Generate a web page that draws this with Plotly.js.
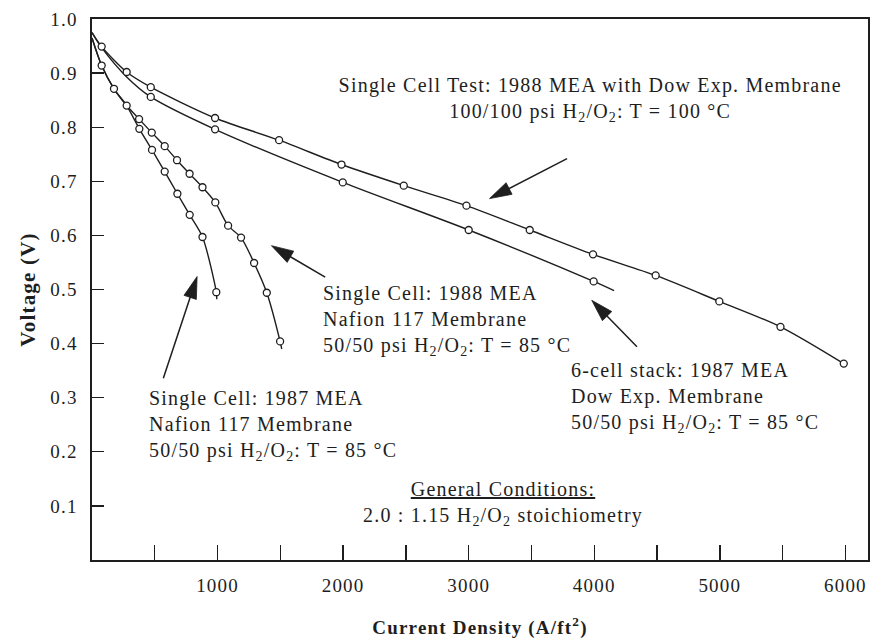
<!DOCTYPE html>
<html>
<head>
<meta charset="utf-8">
<script src="https://cdn.plot.ly/plotly-3.0.1.min.js"></script>
<style>
  html, body { margin: 0; padding: 0; background: #fff; }
  #plot text { letter-spacing: 1.2px; }
</style>
</head>
<body>
<div id="plot" style="width:871px;height:639px;"></div>
<script>
// ---- Data ----
// Single Cell Test: 1988 MEA with Dow Exp. Membrane, 100/100 psi, 100 C
const dow1988LineX = [0, 77, 276, 468, 980, 1490, 1987, 2483, 2982, 3486, 3990, 4489, 4996, 5483, 5987];
const dow1988LineY = [0.975, 0.949, 0.902, 0.874, 0.817, 0.776, 0.731, 0.692, 0.655, 0.610, 0.565, 0.526, 0.478, 0.431, 0.363];
const dow1988PtsX = [77, 276, 468, 980, 1490, 1987, 2483, 2982, 3486, 3990, 4489, 4996, 5483, 5987];
const dow1988PtsY = [0.949, 0.902, 0.874, 0.817, 0.776, 0.731, 0.692, 0.655, 0.610, 0.565, 0.526, 0.478, 0.431, 0.363];

// 6-cell stack: 1987 MEA, Dow Exp. Membrane, 50/50 psi, 85 C
const stack1987LineX = [0, 77, 276, 468, 980, 1997, 3000, 3995, 4158];
const stack1987LineY = [0.975, 0.947, 0.893, 0.856, 0.796, 0.698, 0.610, 0.515, 0.498];
const stack1987PtsX = [468, 980, 1997, 3000, 3995];
const stack1987PtsY = [0.856, 0.796, 0.698, 0.610, 0.515];

// Single Cell: 1988 MEA, Nafion 117, 50/50 psi, 85 C
const naf1988LineX = [0, 77, 175, 276, 375, 476, 579, 677, 777, 880, 982, 1084, 1187, 1291, 1392, 1498, 1511];
const naf1988LineY = [0.965, 0.914, 0.871, 0.840, 0.815, 0.790, 0.765, 0.739, 0.714, 0.689, 0.661, 0.618, 0.596, 0.549, 0.494, 0.404, 0.390];
const naf1988PtsX = [77, 175, 276, 375, 476, 579, 677, 777, 880, 982, 1084, 1187, 1291, 1392, 1498];
const naf1988PtsY = [0.914, 0.871, 0.840, 0.815, 0.790, 0.765, 0.739, 0.714, 0.689, 0.661, 0.618, 0.596, 0.549, 0.494, 0.404];

// Single Cell: 1987 MEA, Nafion 117, 50/50 psi, 85 C
const naf1987LineX = [0, 77, 175, 276, 377, 478, 579, 680, 778, 880, 990, 994];
const naf1987LineY = [0.965, 0.914, 0.871, 0.840, 0.797, 0.758, 0.718, 0.677, 0.638, 0.597, 0.495, 0.482];
const naf1987PtsX = [377, 478, 579, 680, 778, 880, 990];
const naf1987PtsY = [0.797, 0.758, 0.718, 0.677, 0.638, 0.597, 0.495];

// Axis ticks
const xTickVals = [1000, 2000, 3000, 4000, 5000, 6000];
const xTickText = ['1000', '2000', '3000', '4000', '5000', '6000'];
const yTickVals = [0.1, 0.2, 0.3, 0.4, 0.5, 0.6, 0.7, 0.8, 0.9, 1.0];
const yTickText = ['0.1', '0.2', '0.3', '0.4', '0.5', '0.6', '0.7', '0.8', '0.9', '1.0'];

// ---- Styling ----
const INK = '#1e1e1e';
const FONT = 'Liberation Serif, Times New Roman, serif';
const W = 871, H = 639;
const M = { l: 92, r: 3, t: 19, b: 79 };
const X_RANGE = [0, 6180], Y_RANGE = [0, 1.0];

function lineTrace(x, y) {
  return { x: x, y: y, type: 'scatter', mode: 'lines', hoverinfo: 'skip',
    line: { color: INK, width: 1.4, shape: 'spline', smoothing: 0.8 }, showlegend: false };
}
function markTrace(x, y) {
  return { x: x, y: y, type: 'scatter', mode: 'markers', hoverinfo: 'skip', showlegend: false,
    marker: { symbol: 'circle', size: 7, color: '#ffffff', line: { color: INK, width: 1.3 } } };
}

const traces = [
  lineTrace(dow1988LineX, dow1988LineY),
  lineTrace(stack1987LineX, stack1987LineY),
  lineTrace(naf1988LineX, naf1988LineY),
  lineTrace(naf1987LineX, naf1987LineY),
  markTrace(dow1988PtsX, dow1988PtsY),
  markTrace(stack1987PtsX, stack1987PtsY),
  markTrace(naf1988PtsX, naf1988PtsY),
  markTrace(naf1987PtsX, naf1987PtsY)
];

const textFont = { family: FONT, size: 20, color: INK };
function label(x, y, text, xanchor, align) {
  return { x: x, y: y, xref: 'x', yref: 'y', text: text, showarrow: false,
    xanchor: xanchor, yanchor: 'middle', align: align, font: textFont };
}

// Arrows: shaft line + elongated filled head, built in data coordinates
const kx = (W - M.l - M.r) / (X_RANGE[1] - X_RANGE[0]);
const ky = (H - M.t - M.b) / (Y_RANGE[1] - Y_RANGE[0]);
function arrowShapes(xTip, yTip, xTail, yTail) {
  const headLen = 22, headHalf = 6.5;
  const dx = (xTip - xTail) * kx, dy = (yTip - yTail) * ky;
  const L = Math.hypot(dx, dy), ux = dx / L, uy = dy / L;
  const nx = -uy, ny = ux;
  const bx = xTip * kx - ux * headLen, by = yTip * ky - uy * headLen;
  const p1 = [(bx + nx * headHalf) / kx, (by + ny * headHalf) / ky];
  const p2 = [(bx - nx * headHalf) / kx, (by - ny * headHalf) / ky];
  const bmx = (bx + ux * 4) / kx, bmy = (by + uy * 4) / ky;
  return [
    { type: 'line', xref: 'x', yref: 'y', x0: xTail, y0: yTail, x1: bmx, y1: bmy,
      line: { color: INK, width: 1.5 } },
    { type: 'path', xref: 'x', yref: 'y',
      path: 'M' + xTip + ',' + yTip + ' L' + p1[0] + ',' + p1[1] + ' L' + p2[0] + ',' + p2[1] + ' Z',
      fillcolor: INK, line: { color: INK, width: 0.8 } }
  ];
}

const shapes = [].concat(
  arrowShapes(3166, 0.668, 3783, 0.742),
  arrowShapes(1429, 0.581, 1857, 0.523),
  arrowShapes(837, 0.524, 568, 0.336),
  arrowShapes(3980, 0.480, 4340, 0.394)
);

const annotations = [
  label(3968, 0.851, 'Single Cell Test: 1988 MEA with Dow Exp. Membrane<br>100/100 psi H<sub>2</sub>/O<sub>2</sub>: T = 100 °C', 'center', 'center'),
  label(1825, 0.442, 'Single Cell: 1988 MEA<br>Nafion 117 Membrane<br>50/50 psi H<sub>2</sub>/O<sub>2</sub>: T = 85 °C', 'left', 'left'),
  label(440, 0.248, 'Single Cell: 1987 MEA<br>Nafion 117 Membrane<br>50/50 psi H<sub>2</sub>/O<sub>2</sub>: T = 85 °C', 'left', 'left'),
  label(3800, 0.300, '6-cell stack: 1987 MEA<br>Dow Exp. Membrane<br>50/50 psi H<sub>2</sub>/O<sub>2</sub>: T = 85 °C', 'left', 'left'),
  label(3275, 0.1045, '<u>General Conditions:</u><br>2.0 : 1.15 H<sub>2</sub>/O<sub>2</sub> stoichiometry', 'center', 'center')
];

const layout = {
  width: W, height: H,
  margin: { l: M.l, r: M.r, t: M.t, b: M.b, pad: 0 },
  paper_bgcolor: '#ffffff', plot_bgcolor: '#ffffff',
  font: { family: FONT, size: 19, color: INK },
  showlegend: false,
  xaxis: {
    range: X_RANGE, showgrid: false, zeroline: false,
    showline: true, linecolor: INK, linewidth: 1.6, mirror: true,
    ticks: 'inside', ticklen: 15, tickwidth: 1.4, tickcolor: INK,
    tickmode: 'array', tickvals: xTickVals, ticktext: xTickText,
    minor: { tickmode: 'linear', tick0: 0, dtick: 500, ticks: 'inside', ticklen: 15, tickwidth: 1.4, tickcolor: INK, showgrid: false },
    tickfont: { family: FONT, size: 19, color: INK },
    ticklabelstandoff: 8,
    title: { text: '<b>Current Density (A/ft<sup>2</sup>)</b>', font: { family: FONT, size: 19, color: INK }, standoff: 26 }
  },
  yaxis: {
    range: Y_RANGE, showgrid: false, zeroline: false,
    showline: true, linecolor: INK, linewidth: 1.6, mirror: true,
    ticks: 'inside', ticklen: 12, tickwidth: 1.4, tickcolor: INK,
    tickmode: 'array', tickvals: yTickVals, ticktext: yTickText,
    tickfont: { family: FONT, size: 19, color: INK },
    ticklabelstandoff: 9,
    title: { text: '<b>Voltage (V)</b>', font: { family: FONT, size: 21, color: INK }, standoff: 12 }
  },
  shapes: shapes,
  annotations: annotations
};

Plotly.newPlot('plot', traces, layout, { staticPlot: true, displayModeBar: false });
</script>
</body>
</html>
